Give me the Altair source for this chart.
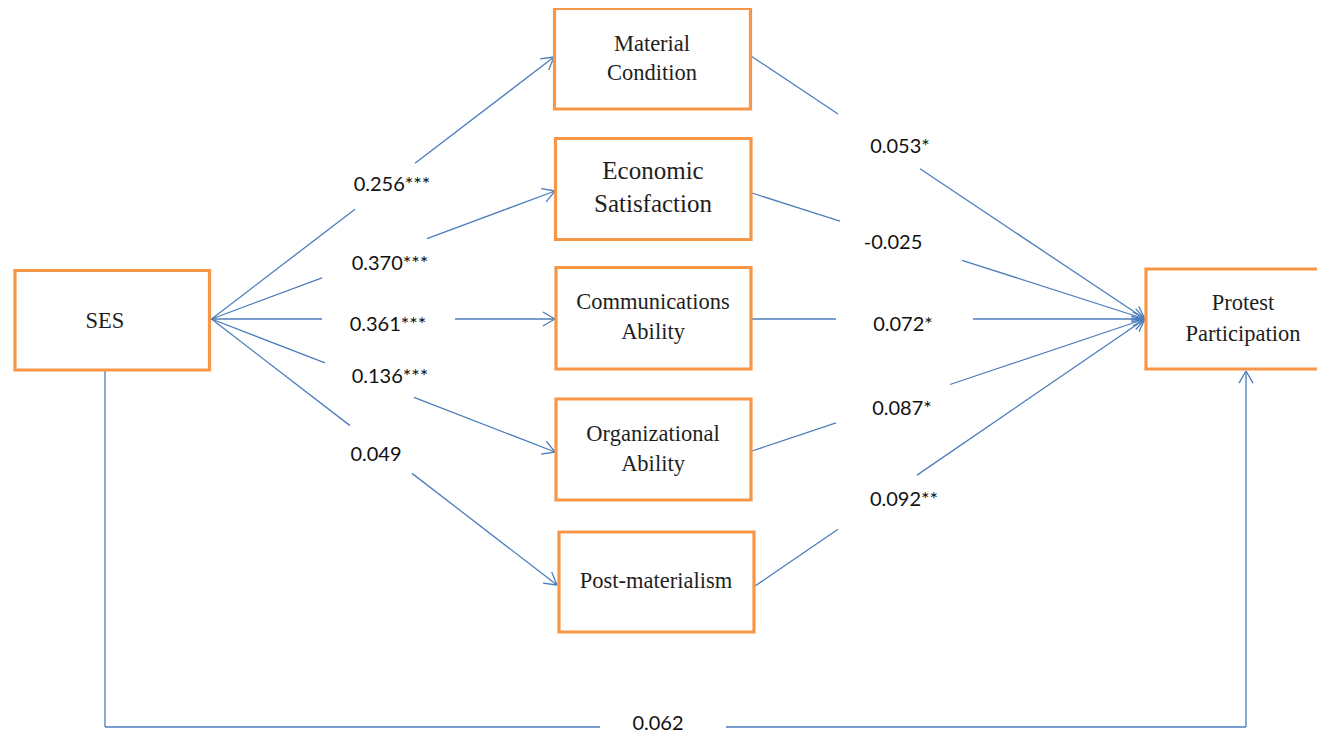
import altair as alt
import pandas as pd
import numpy as np

# ---------------- data (reference pixel layout) ----------------
# boxes
box_names = ["SES", "Material Condition", "Economic Satisfaction",
             "Communications Ability", "Organizational Ability",
             "Post-materialism", "Protest Participation"]
box_x0 = [15, 554.5, 555.5, 556, 556, 559, 1146]
box_x1 = [209.5, 750.5, 751, 751, 751, 754, 1345]
box_y0 = [270.5, 8.5, 138.5, 267.5, 399, 532, 269]
box_y1 = [370, 109, 239.5, 369, 500, 632, 369]

# text inside boxes (one row per line)
line_text = ["SES", "Material", "Condition", "Economic", "Satisfaction",
             "Communications", "Ability", "Organizational", "Ability",
             "Post-materialism", "Protest", "Participation"]
line_x = [105, 652, 652, 653, 653, 653, 653, 653, 653, 656, 1243, 1243]
line_y = [321, 44, 73, 171, 204, 302, 332, 434, 464, 581, 303, 334]
line_size = [22.5, 22.5, 22.5, 25, 25, 22.5, 22.5, 22.5, 22.5, 22.5, 22.5, 22.5]

# path coefficients
coef_text = ["0.256***", "0.370***", "0.361***", "0.136***", "0.049",
             "0.053*", "-0.025", "0.072*", "0.087*", "0.092**", "0.062"]
coef_x = [392, 390, 388, 390, 376, 900, 893, 903, 902, 904, 658]
coef_y = [185, 264, 325, 377, 455, 147, 243, 325, 409, 500, 724]

# edges: polylines, gap (x range) where the label sits
edge_pts = [
    [(211.5, 319), (554, 57)],
    [(211.5, 319), (555, 191)],
    [(211.5, 319), (555, 319)],
    [(211.5, 319), (555, 452)],
    [(211.5, 319), (557, 585)],
    [(751, 56), (1145, 319)],
    [(752, 193), (1145, 319)],
    [(752, 319), (1145, 319)],
    [(752, 451), (1145, 319)],
    [(755, 586), (1145, 319)],
    [(105, 371), (105, 727), (1246, 727), (1246, 371)],
]
edge_gap = [(355, 415), (322, 427), (322, 455), (325, 414), (350, 412),
            (838, 920), (840, 962), (836, 973), (836, 950), (838, 917),
            (600, 726)]

# ---------------- build tables ----------------
segs = []
for pts, (g0, g1) in zip(edge_pts, edge_gap):
    for (xa, ya), (xb, yb) in zip(pts[:-1], pts[1:]):
        if xa != xb and min(xa, xb) < g0 and max(xa, xb) > g1:
            f = lambda x: ya + (yb - ya) * (x - xa) / (xb - xa)
            segs.append((xa, ya, g0, f(g0)))
            segs.append((g1, f(g1), xb, yb))
        else:
            segs.append((xa, ya, xb, yb))
    # arrowhead at the final point
    (xa, ya), (xb, yb) = pts[-2], pts[-1]
    th = np.arctan2(yb - ya, xb - xa)
    L, a = 14, np.radians(30)
    for s in (-1, 1):
        segs.append((xb, yb, xb - L * np.cos(th + s * a), yb - L * np.sin(th + s * a)))

seg_df = pd.DataFrame(segs, columns=["x", "y", "x2", "y2"])
box_df = pd.DataFrame({"name": box_names, "x0": box_x0, "x1": box_x1,
                       "y0": box_y0, "y1": box_y1})
txt_df = pd.DataFrame({"t": line_text, "x": line_x, "y": line_y, "s": line_size})
coef_df = pd.DataFrame({"t": coef_text, "x": coef_x, "y": coef_y})

xs = alt.Scale(domain=[8, 1317])
ys = alt.Scale(domain=[8, 735], reverse=True)
BLUE = "#4A7EBB"
ORANGE = "#F79646"

lines = alt.Chart(seg_df).mark_rule(color=BLUE, strokeWidth=1.3).encode(
    x=alt.X("x:Q", scale=xs, axis=None), y=alt.Y("y:Q", scale=ys, axis=None),
    x2="x2:Q", y2="y2:Q")

boxes = alt.Chart(box_df).mark_rect(fill="white", stroke=ORANGE, strokeWidth=3.2).encode(
    x=alt.X("x0:Q", scale=xs, axis=None), x2="x1:Q",
    y=alt.Y("y0:Q", scale=ys, axis=None), y2="y1:Q")

box_text = alt.Chart(txt_df).mark_text(font="Liberation Serif", color="#1e1e1e",
                                       baseline="middle", align="center").encode(
    x=alt.X("x:Q", scale=xs, axis=None), y=alt.Y("y:Q", scale=ys, axis=None),
    text="t:N", size=alt.Size("s:Q", scale=None, legend=None))

coef = alt.Chart(coef_df).mark_text(font="Lato", fontSize=20, color="#111111",
                                    baseline="middle", align="center").encode(
    x=alt.X("x:Q", scale=xs, axis=None), y=alt.Y("y:Q", scale=ys, axis=None),
    text="t:N")

chart = alt.layer(lines, boxes, box_text, coef).properties(
    width=1309, height=727, padding=0,
    autosize=alt.AutoSizeParams(type="none"),
    background="white"
).configure_view(stroke=None)

chart.save("out.html", embed_options={"renderer": "svg", "actions": False})
